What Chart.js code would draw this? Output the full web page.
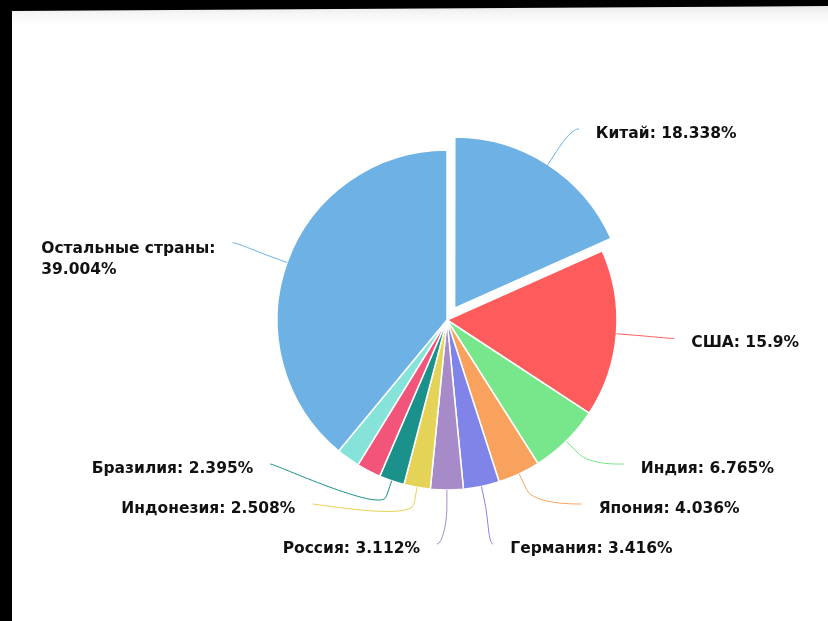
<!DOCTYPE html>
<html lang="ru">
<head>
<meta charset="utf-8">
<title>Доли стран</title>
<script src="https://cdn.jsdelivr.net/npm/chart.js@4.4.1/dist/chart.umd.min.js"></script>
<style>
  html, body { margin: 0; padding: 0; background: #000; overflow: hidden; }
  #frame {
    position: absolute; left: 0; top: 0; width: 828px; height: 621px;
    background: linear-gradient(#e9e9e9 6px, #f6f6f6 14px, #fff 26px);
    clip-path: polygon(12px 11px, 828px 6px, 828px 621px, 12px 621px);
  }
  #chart { position: absolute; left: 0; top: 0; }
</style>
</head>
<body>
<div id="frame"></div>
<canvas id="chart" width="828" height="621"></canvas>
<script>
// Data (clockwise from the top)
const countries = ['Китай', 'США', 'Индия', 'Япония', 'Германия', 'Россия', 'Индонезия', 'Бразилия', '', '', 'Остальные страны'];
const shares = [18.338, 15.9, 6.765, 4.036, 3.416, 3.112, 2.508, 2.395, 2.31, 2.216, 39.004];
const colors = ['#6eb2e5', '#fe5c5c', '#78e68b', '#f9a25d', '#8084e9', '#a78bc8', '#e5d357', '#1a918a', '#f2547a', '#86e3da', '#6eb2e5'];
const slicedIndex = 0;

const SLICE_OFFSET = 56; // chart.js moves the arc by offset / 4

// Outside labels with soft connectors
const pieLabels = {
  id: 'pieLabels',
  afterDatasetsDraw(chart) {
    const meta = chart.getDatasetMeta(0);
    const ctx = chart.ctx;
    const D = 58, BREAK = 17, GAP = 40, PAD = 17, LINE = 21;
    const items = [];

    meta.data.forEach((arc, i) => {
      if (!countries[i]) return;
      const p = arc.getProps(['x', 'y', 'startAngle', 'endAngle', 'outerRadius'], true);
      const a = (p.startAngle + p.endAngle) / 2;
      const off = (arc.options.offset || 0) / 4;
      items.push({
        a, cx: p.x, cy: p.y, r: p.outerRadius,
        ox: Math.cos(a) * off, oy: Math.sin(a) * off,
        left: Math.cos(a) < 0,
        natY: p.y + (p.outerRadius + D) * Math.sin(a),
        text: countries[i] + ': ' + shares[i] + '%',
        color: colors[i]
      });
    });
    if (!items.length) return;

    const cy = items[0].cy, r = items[0].r;
    const yMin = cy - r - 32, yMax = cy + r + 54;

    [true, false].forEach(left => {
      const side = items.filter(it => it.left === left).sort((p, q) => p.natY - q.natY);
      side.forEach((it, k) => {
        it.y = Math.max(it.natY, yMin, k ? side[k - 1].y + GAP : -Infinity);
      });
      for (let k = side.length - 1; k >= 0; k--) {
        const lim = k === side.length - 1 ? yMax : side[k + 1].y - GAP;
        side[k].y = Math.min(side[k].y, lim);
      }
    });

    ctx.save();
    ctx.font = 'bold 15.5px "DejaVu Sans", Verdana, sans-serif';
    ctx.textBaseline = 'middle';

    items.forEach(it => {
      const R = it.r + D;
      const pinned = it.y <= yMin || it.y >= yMax;
      const yx = pinned ? it.natY : it.y;
      const dy = Math.max(-R, Math.min(R, yx - it.cy));
      const dx = Math.max(Math.sqrt(R * R - dy * dy), 10);
      const sign = it.left ? -1 : 1;
      const ex = it.cx + sign * dx + it.ox;
      const ey = it.y;

      const tx = it.cx + it.r * Math.cos(it.a) + it.ox;
      const ty = it.cy + it.r * Math.sin(it.a) + it.oy;
      const bx = it.cx + (it.r + BREAK) * Math.cos(it.a) + it.ox;
      const by = it.cy + (it.r + BREAK) * Math.sin(it.a) + it.oy;

      ctx.beginPath();
      ctx.moveTo(ex, ey);
      ctx.bezierCurveTo(ex - sign * 5, ey, 2 * bx - tx, 2 * by - ty, bx, by);
      ctx.lineTo(tx, ty);
      ctx.strokeStyle = it.color;
      ctx.lineWidth = 1;
      ctx.stroke();

      ctx.fillStyle = '#111';
      ctx.textAlign = 'left';
      if (!it.left) {
        ctx.fillText(it.text, ex + PAD, ey + 5);
        return;
      }
      // left side: right-aligned block, wrapped when it does not fit
      const right = ex - PAD;
      const maxW = right - 25;
      const lines = [];
      let cur = '';
      it.text.split(' ').forEach(w => {
        const test = cur ? cur + ' ' + w : w;
        if (cur && ctx.measureText(test).width > maxW) {
          lines.push(cur);
          cur = w;
        } else {
          cur = test;
        }
      });
      lines.push(cur);
      const blockW = Math.max(...lines.map(l => ctx.measureText(l).width));
      const x0 = right - blockW;
      lines.forEach((l, k) => {
        ctx.fillText(l, x0, ey + (lines.length > 1 ? 6 : 5) + k * LINE);
      });
    });
    ctx.restore();
  }
};

new Chart(document.getElementById('chart'), {
  type: 'pie',
  data: {
    labels: countries,
    datasets: [
      {
        data: shares,
        backgroundColor: colors,
        borderColor: '#ffffff',
        borderWidth: 1.5,
        hoverBorderWidth: 1.5,
        offset: shares.map((v, i) => (i === slicedIndex ? SLICE_OFFSET : 0)),
        hoverOffset: 0,
      },
    ],
  },
  options: {
    responsive: false,
    animation: false,
    layout: {
      padding: { left: 248.25, right: 182.25, top: 121.25, bottom: 102.25 },
    },
    plugins: {
      legend: { display: false },
      tooltip: { enabled: false },
    },
  },
  plugins: [pieLabels],
});
</script>
</body>
</html>
